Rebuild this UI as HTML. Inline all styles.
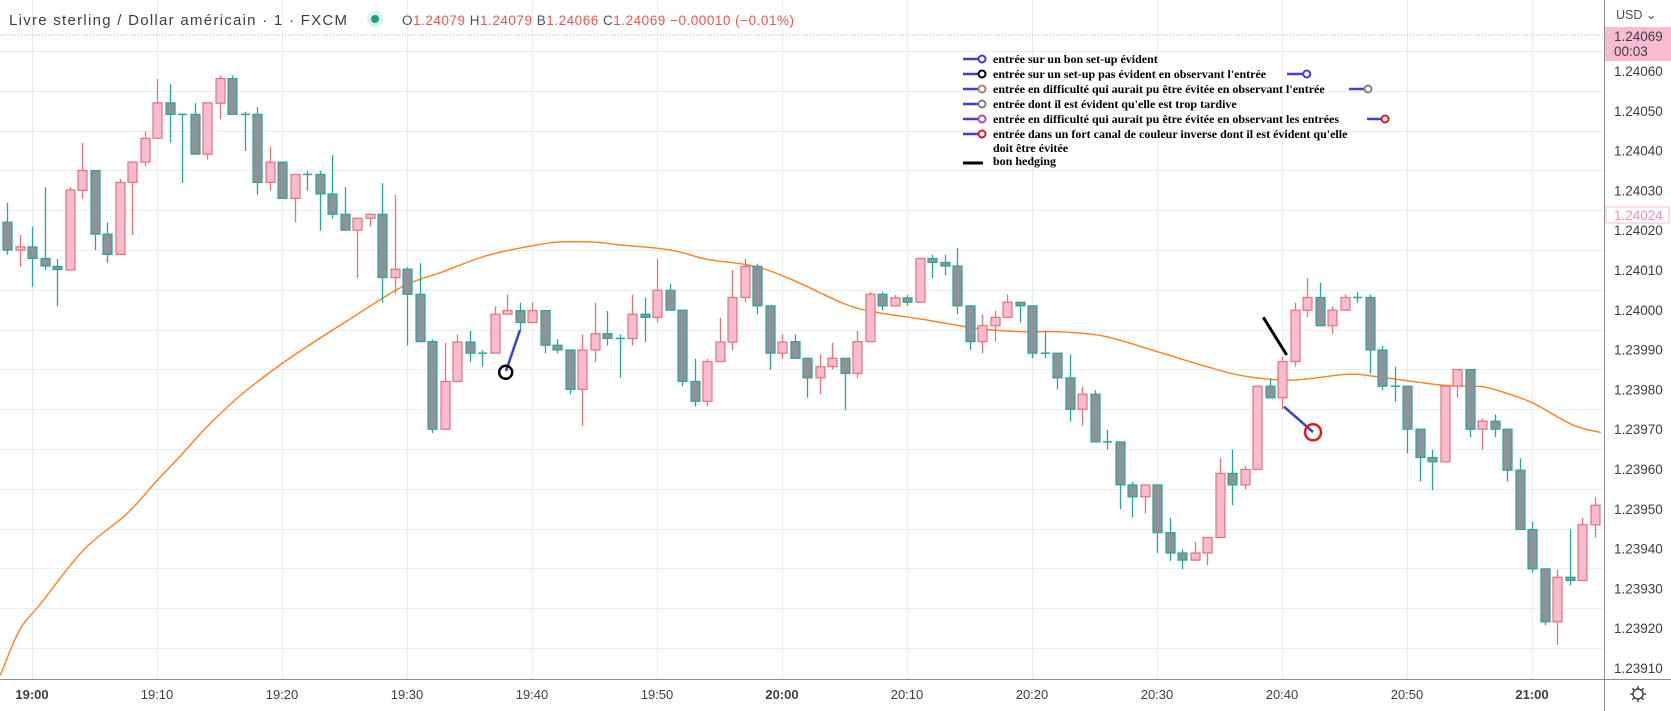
<!DOCTYPE html>
<html><head><meta charset="utf-8">
<style>
html,body{margin:0;padding:0;background:#fff;}
svg{display:block;font-family:"Liberation Sans",sans-serif;}
</style></head>
<body>
<svg id="chart" width="1671" height="711" viewBox="0 0 1671 711" xmlns="http://www.w3.org/2000/svg">
  <defs><clipPath id="plotClip"><rect x="0" y="0" width="1604" height="679"/></clipPath></defs>
  <rect x="0" y="0" width="1671" height="711" fill="#ffffff"/>
  <g id="grid"></g>
  <line x1="0" y1="35" x2="1604" y2="35" stroke="#f48fb1" stroke-width="1" stroke-dasharray="1,2"/>
  <g id="ema" clip-path="url(#plotClip)"></g>
  <g id="candles" clip-path="url(#plotClip)"></g>

  <!-- user drawings -->
  <g>
    <line x1="520" y1="330" x2="506" y2="371" stroke="#3f3fd0" stroke-width="2.5"/>
    <circle cx="505.7" cy="372.3" r="6.5" fill="none" stroke="#000" stroke-width="2.5"/>
    <line x1="1263.3" y1="317.3" x2="1286.7" y2="355" stroke="#000" stroke-width="3"/>
    <line x1="1284" y1="406.7" x2="1313" y2="432" stroke="#3f3fd0" stroke-width="2.5"/>
    <circle cx="1313" cy="432.3" r="8" fill="none" stroke="#e01b1b" stroke-width="2.5"/>
  </g>

  <!-- legend -->
  <g id="legend" font-family="'Liberation Serif',serif" font-weight="bold" font-size="12" fill="#000">
    <g>
      <line x1="963" y1="59" x2="979" y2="59" stroke="#3f3fd0" stroke-width="2.5"/><circle cx="982" cy="59" r="3.5" fill="#fff" stroke="#3f3fd0" stroke-width="2"/>
      <text x="993" y="63">entrée sur un bon set-up évident</text></g>
    <g>
      <line x1="963" y1="74" x2="979" y2="74" stroke="#3f3fd0" stroke-width="2.5"/><circle cx="982" cy="74" r="3.5" fill="#fff" stroke="#000" stroke-width="2"/>
      <text x="993" y="78">entrée sur un set-up pas évident en observant l'entrée</text>
      <line x1="1287" y1="74" x2="1303" y2="74" stroke="#3f3fd0" stroke-width="2.5"/><circle cx="1306.7" cy="74" r="3.5" fill="#fff" stroke="#3f3fd0" stroke-width="2"/></g>
    <g>
      <line x1="963" y1="89" x2="979" y2="89" stroke="#3f3fd0" stroke-width="2.5"/><circle cx="982" cy="89" r="3.5" fill="#fff" stroke="#b5825e" stroke-width="2"/>
      <text x="993" y="93">entrée en difficulté qui aurait pu être évitée en observant l'entrée</text>
      <line x1="1349" y1="89" x2="1365" y2="89" stroke="#3f3fd0" stroke-width="2.5"/><circle cx="1368" cy="89" r="3.5" fill="#fff" stroke="#808080" stroke-width="2"/></g>
    <g>
      <line x1="963" y1="104" x2="979" y2="104" stroke="#3f3fd0" stroke-width="2.5"/><circle cx="982" cy="104" r="3.5" fill="#fff" stroke="#808080" stroke-width="2"/>
      <text x="993" y="108">entrée dont il est évident qu'elle est trop tardive</text></g>
    <g>
      <line x1="963" y1="119" x2="979" y2="119" stroke="#3f3fd0" stroke-width="2.5"/><circle cx="982" cy="119" r="3.5" fill="#fff" stroke="#a050b8" stroke-width="2"/>
      <text x="993" y="123">entrée en difficulté qui aurait pu être évitée en observant les entrées</text>
      <line x1="1367" y1="119" x2="1381" y2="119" stroke="#3f3fd0" stroke-width="2.5"/><circle cx="1385" cy="119" r="3.5" fill="#fff" stroke="#e01b1b" stroke-width="2"/></g>
    <g>
      <line x1="963" y1="134" x2="979" y2="134" stroke="#3f3fd0" stroke-width="2.5"/><circle cx="982" cy="134" r="3.5" fill="#fff" stroke="#e01b1b" stroke-width="2"/>
      <text x="993" y="138">entrée dans un fort canal de couleur inverse dont il est évident qu'elle</text>
      <text x="993" y="152">doit être évitée</text></g>
    <g>
      <line x1="963" y1="163" x2="983" y2="163" stroke="#000" stroke-width="3"/>
      <text x="993" y="165">bon hedging</text></g>
  </g>

  <!-- header -->
  <g>
    <text x="9" y="25" font-size="15" fill="#3b3e48" textLength="338">Livre sterling / Dollar américain · 1 · FXCM</text>
    <circle cx="375" cy="19" r="8" fill="#d9f1ee"/>
    <circle cx="375" cy="19" r="4" fill="#1b9c85"/>
    <text x="402" y="25" font-size="13.5" fill="#4c4f59" textLength="392">O<tspan fill="#ef5350">1.24079</tspan> H<tspan fill="#ef5350">1.24079</tspan> B<tspan fill="#ef5350">1.24066</tspan> C<tspan fill="#ef5350">1.24069 −0.00010 (−0.01%)</tspan></text>
  </g>

  <!-- axes -->
  <rect x="1604.5" y="0" width="67" height="711" fill="#fff"/>
  <rect x="0" y="679.5" width="1671" height="32" fill="#fff"/>
  <line x1="1604.5" y1="0" x2="1604.5" y2="711" stroke="#8a8d95" stroke-width="1"/>
  <line x1="0" y1="679.5" x2="1671" y2="679.5" stroke="#8a8d95" stroke-width="1"/>
  <g id="yticks"></g>
  <g id="xticks"></g>
  <text x="1616" y="19" font-size="12.5" fill="#4c4f59">USD ⌄</text>
  <g>
    <rect x="1605" y="27" width="66" height="34" fill="#f8bbd0"/>
    <text x="1614" y="41" font-size="13.5" fill="#3b3e48">1.24069</text>
    <text x="1614" y="56" font-size="13.5" fill="#3b3e48">00:03</text>
  </g>
  <g>
    <rect x="1606" y="207" width="63" height="16" fill="#fff" stroke="#f8bbd0" stroke-width="1"/>
    <text x="1614" y="220" font-size="13.5" fill="#f48fb1">1.24024</text>
  </g>
  <g transform="translate(1638,694)" fill="none" stroke="#3b3e48" stroke-width="1.4">
    <circle cx="0" cy="0" r="5"/>
    <line x1="0" y1="-8" x2="0" y2="-5"/><line x1="0" y1="5" x2="0" y2="8"/>
    <line x1="-8" y1="0" x2="-5" y2="0"/><line x1="5" y1="0" x2="8" y2="0"/>
    <line x1="-5.7" y1="-5.7" x2="-3.5" y2="-3.5"/><line x1="3.5" y1="3.5" x2="5.7" y2="5.7"/>
    <line x1="-5.7" y1="5.7" x2="-3.5" y2="3.5"/><line x1="3.5" y1="-3.5" x2="5.7" y2="-5.7"/>
  </g>
</svg>
<script>
// ---- data (prices expressed in 0.00001 units above BASE) ----
const BASE = 1.24000;
const START_MINUTE = -2; // first candle at 18:58 (minutes relative to 19:00)
const openPts = [22.0,15.0,15.8,12.9,10.9,10.0,30.0,35.0,19.0,13.9,32.0,37.1,43.1,52.0,49.1,49.1,39.1,51.9,58.1,49.1,49.1,32.0,37.1,28.0,34.0,34.0,29.1,24.0,20.0,23.0,24.0,8.1,10.2,3.9,-8.0,-30.0,-18.0,-8.1,-10.9,-10.9,-1.1,-0.2,-3.2,-0.2,-8.9,-10.1,-20.0,-10.1,-6.0,-7.2,-7.2,-1.1,-1.9,4.9,-0.1,-18.0,-23.0,-13.0,-8.1,3.1,10.9,1.0,-10.9,-8.0,-12.2,-17.1,-14.3,-12.2,-16.0,-8.0,3.9,1.0,3.0,1.9,12.9,11.9,11.0,1.0,-8.0,-4.0,-1.9,1.9,1.0,-10.9,-10.9,-17.1,-25.0,-21.2,-33.2,-33.2,-44.0,-47.0,-44.0,-56.0,-61.1,-62.9,-61.1,-57.2,-41.1,-44.0,-40.1,-19.2,-22.1,-13.0,-0.1,3.1,-4.0,-0.1,3.1,3.1,-10.1,-19.2,-19.2,-30.0,-37.1,-38.2,-19.2,-15.0,-30.0,-28.0,-30.0,-40.3,-55.2,-65.1,-78.4,-67.2,-68.0,-54.0];
const highPts = [26.9,18.8,20.9,30.8,12.8,30.8,41.9,35.0,21.9,32.9,37.1,44.8,58.0,56.7,49.1,51.9,52.0,58.9,58.9,49.8,50.9,41.0,37.1,34.0,34.9,34.9,38.9,30.8,23.0,24.0,31.8,28.9,10.7,11.7,-7.4,-8.3,-6.2,-5.3,-10.1,0.9,3.8,1.8,1.8,-0.2,-7.4,-10.1,-6.2,1.8,-0.3,-6.2,3.8,3.0,12.8,6.6,-0.1,-12.3,-12.3,-2.0,10.0,12.8,11.6,1.0,-6.2,-6.2,-12.2,-11.2,-8.3,-12.2,-5.3,4.5,4.5,3.7,3.7,12.9,13.8,13.8,15.5,1.0,-1.1,-0.3,3.9,1.9,1.0,-5.3,-10.9,-11.2,-19.3,-20.2,-30.2,-33.2,-43.2,-44.0,-44.0,-52.3,-60.2,-58.3,-57.2,-37.3,-35.1,-39.3,-19.2,-17.2,-11.8,1.8,7.9,6.8,0.8,3.8,4.5,3.8,-9.1,-14.3,-19.2,-30.0,-35.2,-19.2,-15.0,-15.0,-27.3,-26.3,-30.0,-37.3,-53.3,-65.1,-65.2,-55.2,-52.3,-47.1];
const lowPts = [13.8,10.8,5.8,10.0,0.9,10.0,27.9,15.0,11.8,13.9,18.8,36.0,43.1,42.0,31.9,39.1,37.8,47.9,49.1,39.9,28.9,29.9,28.0,22.0,29.9,19.9,23.0,20.0,7.9,20.9,1.8,3.9,-9.0,-8.0,-31.0,-30.0,-18.0,-13.1,-14.3,-10.9,-1.1,-5.1,-3.2,-10.9,-10.9,-21.2,-29.2,-13.1,-9.0,-17.1,-9.0,-8.1,-3.2,-0.1,-19.2,-24.3,-24.3,-13.0,-10.2,1.8,-1.1,-15.1,-12.3,-12.2,-22.1,-21.2,-15.0,-25.2,-17.2,-8.0,-0.2,1.0,1.0,1.9,7.9,8.7,-1.1,-10.1,-10.9,-8.0,-1.9,-3.2,-12.2,-12.2,-20.0,-28.1,-29.1,-33.2,-35.1,-50.1,-52.2,-51.1,-61.1,-63.1,-65.2,-62.9,-64.2,-57.2,-49.1,-45.1,-40.1,-22.1,-25.0,-14.3,-1.9,-4.0,-6.1,-0.1,1.8,-16.1,-20.2,-23.1,-36.1,-43.2,-45.3,-38.2,-22.1,-32.0,-35.1,-32.0,-43.2,-55.2,-66.0,-79.2,-84.2,-69.3,-68.0,-57.2];
const closePts = [15.0,15.8,12.9,11.0,10.1,30.1,35.0,19.0,13.9,32.0,37.1,43.1,52.0,49.1,49.0,39.1,52.0,58.1,49.1,49.0,32.0,37.1,28.0,34.0,33.9,29.1,24.0,20.0,23.0,24.0,8.1,10.2,3.9,-8.0,-30.0,-18.0,-8.1,-10.9,-11.0,-1.1,-0.2,-3.2,-0.2,-8.9,-10.1,-20.0,-10.1,-6.0,-7.2,-7.3,-1.1,-1.9,4.9,-0.1,-18.0,-23.0,-13.0,-8.1,3.1,10.9,1.0,-10.9,-8.1,-12.2,-17.1,-14.3,-12.2,-16.0,-8.0,3.9,1.0,3.0,1.9,12.9,11.9,11.0,1.0,-8.0,-4.0,-1.9,1.9,1.0,-10.9,-11.0,-17.1,-25.0,-21.2,-33.2,-33.3,-44.0,-47.0,-44.0,-56.0,-61.1,-62.9,-61.1,-57.2,-41.1,-44.0,-40.1,-19.2,-22.1,-13.0,-0.1,3.1,-4.0,-0.1,3.1,3.0,-10.1,-19.2,-19.3,-30.0,-37.1,-38.2,-19.2,-15.0,-30.0,-28.0,-30.0,-40.3,-55.2,-65.1,-78.4,-67.2,-68.0,-54.0,-49.1];
const emaMinutes = [-2.54,-1.0,0.7,4.1,7.6,10.0,11.9,14.0,16.7,20.0,22.8,25.1,29.6,32.9,35.3,37.2,39.9,42.0,44.9,47.1,51.1,54.0,57.7,60.7,64.9,67.3,71.3,75.6,79.3,82.0,85.7,90.0,94.0,96.9,100.7,105.2,107.6,112.7,115.9,118.0,120.1,123.3,125.5];
const emaPts = [-91.8,-80.5,-73.8,-60.4,-51.2,-42.9,-36.6,-29.4,-21.4,-13.5,-7.6,-3.0,5.8,9.6,12.5,14.3,16.0,17.0,17.0,16.3,15.0,12.7,11.0,7.7,1.6,-0.5,-2.4,-4.7,-5.5,-5.5,-6.6,-10.5,-14.3,-16.6,-17.7,-16.2,-16.8,-18.9,-19.3,-21.0,-23.5,-29.0,-30.8];
const priceTicks = [1.24060,1.24050,1.24040,1.24030,1.24020,1.24010,1.24000,1.23990,1.23980,1.23970,1.23960,1.23950,1.23940,1.23930,1.23920,1.23910];
const timeTickMinutes = [0,10,20,30,40,50,60,70,80,90,100,110,120];
const timeTickLabels = ["19:00","19:10","19:20","19:30","19:40","19:50","20:00","20:10","20:20","20:30","20:40","20:50","21:00"];
const timeTickBold = [true,false,false,false,false,false,true,false,false,false,false,false,true];

// ---- scales ----
function yScale(price){ return 71 + (1.24060 - price) * 398000; }
function xScale(minute){ return 32 + minute * 12.5; }
function ptsToPrice(v){ return BASE + v * 0.00001; }

const NS = "http://www.w3.org/2000/svg";
function mk(tag, attrs){ const e = document.createElementNS(NS, tag); for (const k in attrs) e.setAttribute(k, attrs[k]); return e; }

// grid
const grid = document.getElementById('grid');
priceTicks.forEach(function(p){
  const y = Math.round(yScale(p + 0.00005)) + 0.5;
  const l = mk('line', {x1:0, x2:1604, y1:y, y2:y, stroke:'#e9eef4', 'stroke-width':1});
  
  
  grid.appendChild(l);
});
timeTickMinutes.forEach(function(m){
  const x = Math.round(xScale(m)) + 0.5;
  const l = mk('line', {x1:x, x2:x, y1:0, y2:679, stroke:'#e9eef4', 'stroke-width':1});
  
  
  grid.appendChild(l);
});

// price labels
const yt = document.getElementById('yticks');
priceTicks.forEach(function(p){
  const t = mk('text', {x:1614, y:yScale(p) + 5, 'font-size':13.5, fill:'#3b3e48'});
  t.textContent = p.toFixed(5);
  
  
  yt.appendChild(t);
});

// time labels
const xt = document.getElementById('xticks');
timeTickMinutes.forEach(function(m, i){
  const t = mk('text', {x:xScale(m), y:699, 'font-size':13, fill:'#3b3e48', 'text-anchor':'middle', 'font-weight': timeTickBold[i] ? 'bold' : 'normal'});
  t.textContent = timeTickLabels[i];
  
  
  xt.appendChild(t);
});

// EMA line (smoothed)
(function(){
  const pts = emaMinutes.map(function(m, i){ return [xScale(m), yScale(ptsToPrice(emaPts[i]))]; });
  let d = 'M' + pts[0][0].toFixed(1) + ',' + pts[0][1].toFixed(1);
  for (let i = 0; i < pts.length - 1; i++) {
    const p0 = pts[Math.max(0, i - 1)], p1 = pts[i], p2 = pts[i + 1], p3 = pts[Math.min(pts.length - 1, i + 2)];
    const c1x = p1[0] + (p2[0] - p0[0]) / 6, c1y = p1[1] + (p2[1] - p0[1]) / 6;
    const c2x = p2[0] - (p3[0] - p1[0]) / 6, c2y = p2[1] - (p3[1] - p1[1]) / 6;
    d += ' C' + c1x.toFixed(1) + ',' + c1y.toFixed(1) + ' ' + c2x.toFixed(1) + ',' + c2y.toFixed(1) + ' ' + p2[0].toFixed(1) + ',' + p2[1].toFixed(1);
  }
  const path = mk('path', {d:d, fill:'none', stroke:'#ff7f1e', 'stroke-width':1.4});
  
  
  document.getElementById('ema').appendChild(path);
})();

// candles
const cg = document.getElementById('candles');
openPts.forEach(function(o, i){
  const x = xScale(START_MINUTE + i);
  const op = ptsToPrice(o), cp = ptsToPrice(closePts[i]), hp = ptsToPrice(highPts[i]), lp = ptsToPrice(lowPts[i]);
  const up = cp > op;
  const wickCol = up ? '#e57373' : '#26a69a';
  const fill = up ? '#f8bbd0' : '#909299';
  const g = mk('g', {});
  
  
  const xr = Math.round(x) + 0.5;
  g.appendChild(mk('line', {x1:xr, x2:xr, y1:yScale(hp), y2:yScale(lp), stroke:wickCol, 'stroke-width':1.3}));
  const top = yScale(Math.max(op, cp)), bot = yScale(Math.min(op, cp));
  const h = bot - top;
  if (h < 1.5) {
    g.appendChild(mk('line', {x1:xr - 4.5, x2:xr + 4.5, y1:top, y2:top, stroke:wickCol, 'stroke-width':1.5}));
  } else {
    g.appendChild(mk('rect', {x:xr - 4.5, y:top, width:9, height:h, fill:fill, stroke:wickCol, 'stroke-width':1.2}));
  }
  cg.appendChild(g);
});
</script>
</body></html>
